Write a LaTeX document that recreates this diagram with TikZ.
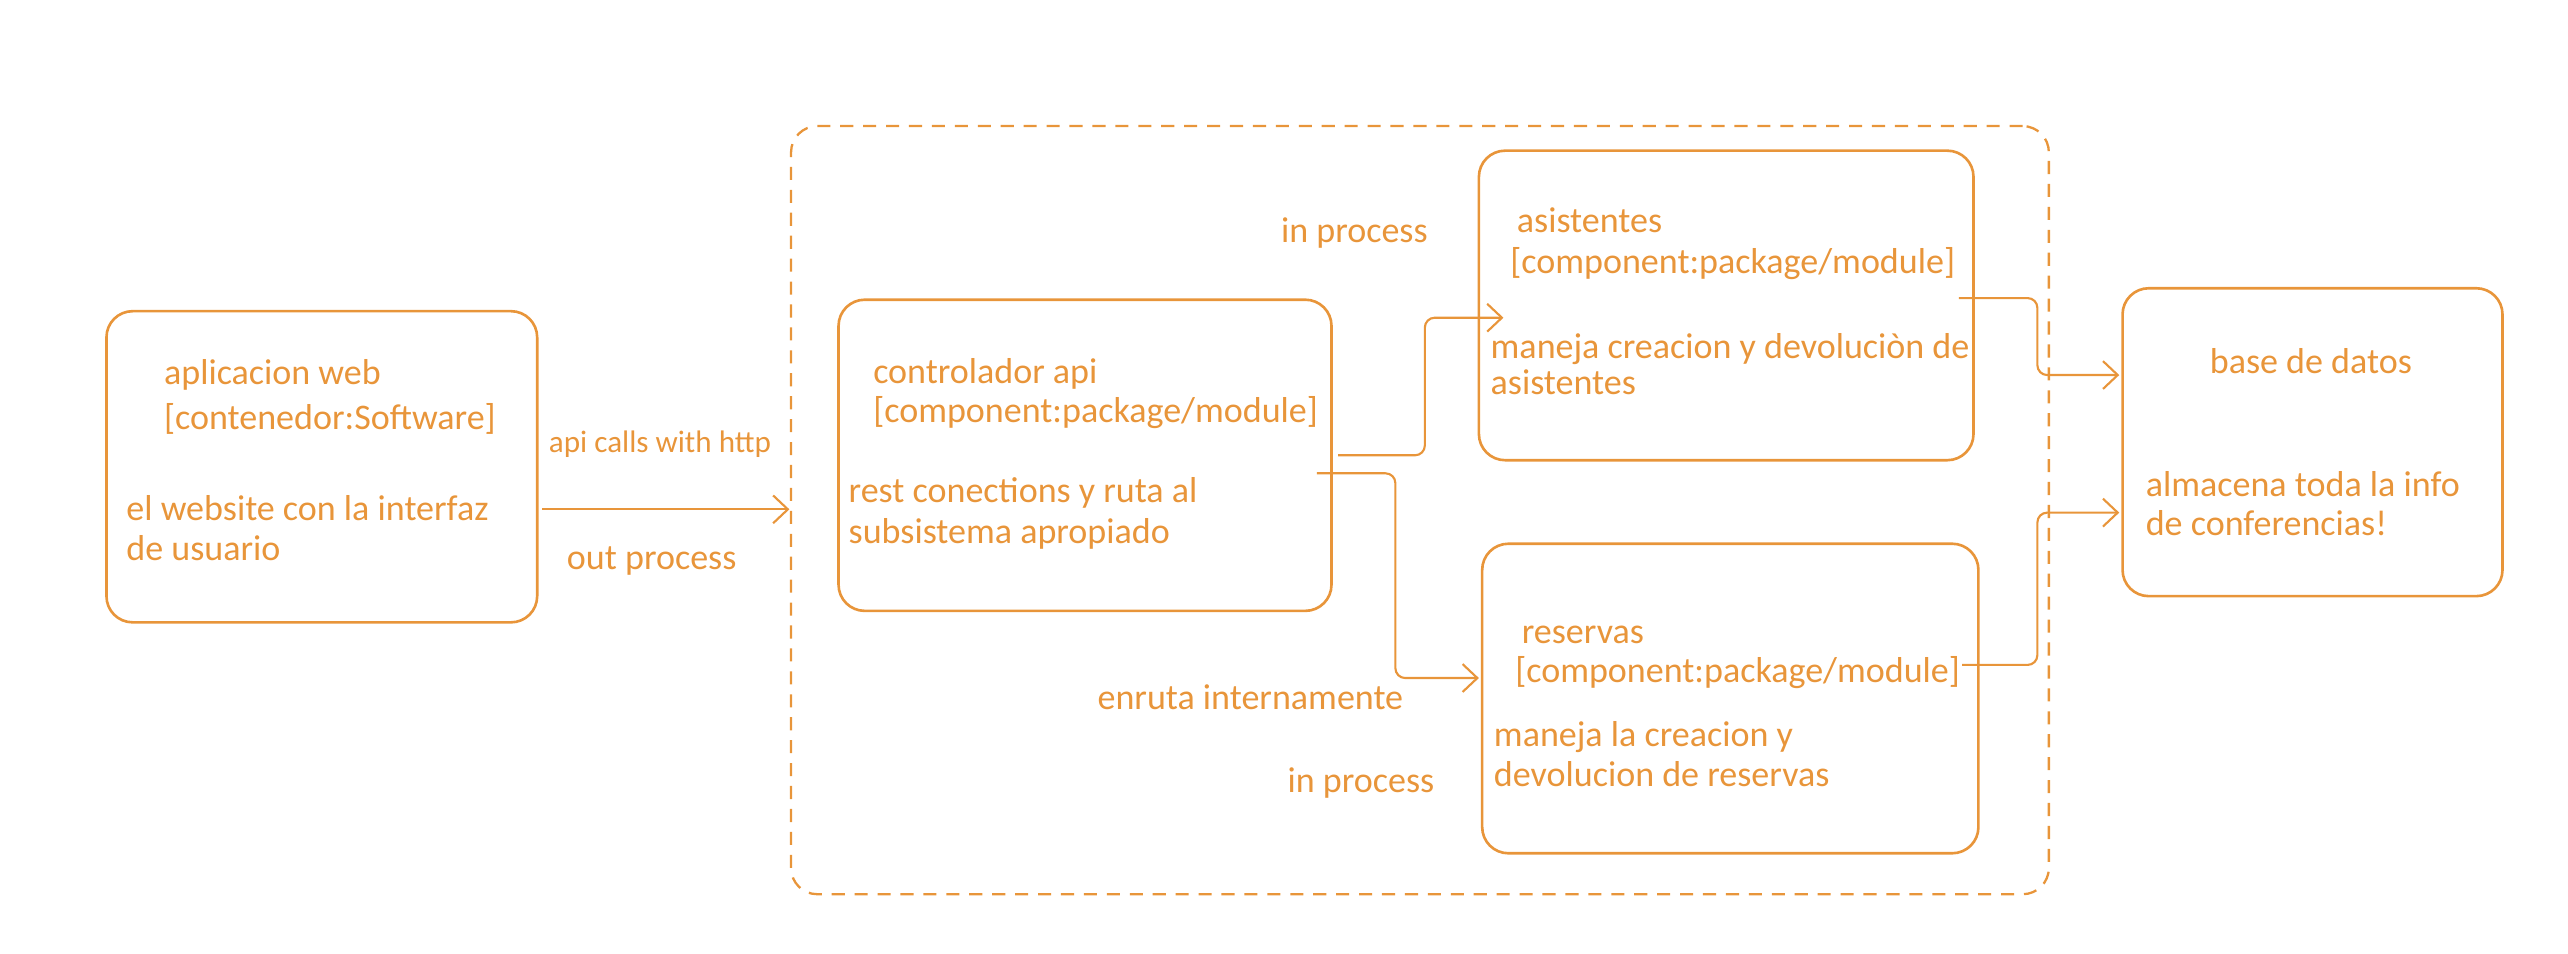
\documentclass[tikz,border=0pt]{standalone}
\usepackage{fontspec}
\setmainfont{Carlito}
\usetikzlibrary{arrows.meta,calc}
\definecolor{ink}{HTML}{E8953A}
\tikzset{
  box/.style={draw=ink, line width=1.6pt, rounded corners=16pt, rectangle, inner sep=0pt, outer sep=0pt},
  contbox/.style={draw=ink, line width=1.4pt, rounded corners=16pt, dash pattern=on 8pt off 6pt, rectangle, inner sep=0pt, outer sep=0pt},
  conn/.style={draw=ink, line width=1.3pt, rounded corners=6pt, -{Straight Barb[length=9pt,width=17pt,line width=1.3pt]}},
  txt/.style={anchor=base west, inner sep=0pt, text=ink, font=\fontsize{22}{27}\selectfont},
  small/.style={txt, font=\fontsize{19}{23}\selectfont}
}
\begin{document}
\begin{tikzpicture}[x=1pt,y=-1pt]
\useasboundingbox (0,0) rectangle (1568,582.5);
% container
\node[contbox, minimum width=768pt, minimum height=469pt] (cont) at (867,311.5) {};
% boxes
\node[box, minimum width=263pt, minimum height=190pt] (web) at (196.5,285) {};
\node[box, minimum width=301pt, minimum height=190pt] (ctrl) at (662.5,278) {};
\node[box, minimum width=302pt, minimum height=189pt] (asis) at (1054,186.5) {};
\node[box, minimum width=303pt, minimum height=189pt] (res) at (1056.5,426.5) {};
\node[box, minimum width=232pt, minimum height=188pt] (base) at (1412,270) {};
% texts web
\node[txt] (w1) at (100,235) {aplicacion web};
\node[txt] (w2) at (100,262) {[contenedor:Software]};
\node[txt] (w3) at (77,318) {el website con la interfaz};
\node[txt] (w4) at (77,342) {de usuario};
\node[small] (l1) at (335,276) {api calls with http};
\node[txt] (l2) at (346,348) {out process};
% ctrl
\node[txt] (c1) at (533,234) {controlador api};
\node[txt] (c2) at (533,258) {[component:package/module]};
\node[txt] (c3) at (518,307) {rest conections y ruta al};
\node[txt] (c4) at (518,332) {subsistema apropiado};
% asis
\node[txt] (a1) at (926,142) {asistentes};
\node[txt] (a2) at (922,167) {[component:package/module]};
\node[txt] (a3) at (910,219) {maneja creacion y devoluciòn de};
\node[txt] (a4) at (910,241) {asistentes};
\node[txt] (l3) at (782,148) {in process};
% res
\node[txt] (r1) at (929,393) {reservas};
\node[txt] (r2) at (925,417) {[component:package/module]};
\node[txt] (r3) at (912,456) {maneja la creacion y};
\node[txt] (r4) at (912,480) {devolucion de reservas};
\node[txt] (l4) at (670,433) {enruta internamente};
\node[txt] (l5) at (786,484) {in process};
% base
\node[txt, anchor=base] (b1) at (1411,228) {base de datos};
\node[txt] (b2) at (1310,303) {almacena toda la info};
\node[txt] (b3) at (1310,327) {de conferencias!};
% connectors
\coordinate (ws) at ([xshift=3pt,yshift=-26pt]web.east);
\draw[conn] (ws) -- ([xshift=-1pt]ws -| cont.west);
\draw[conn] ([xshift=4pt]ctrl.east) -- ++(53,0) |- ([xshift=15pt,yshift=-7.5pt]asis.west);
\draw[conn] ([xshift=-9pt,yshift=-11pt]ctrl.east) -- ++(48,0) |- ([xshift=-2pt,yshift=12.5pt]res.west);
\draw[conn] ([xshift=-9pt,yshift=4.5pt]asis.east) -- ++(48,0) |- ([xshift=-2pt,yshift=41pt]base.west);
\draw[conn] ([xshift=-10pt,yshift=20.5pt]res.east) -- ++(46,0) |- ([xshift=-2pt,yshift=-43pt]base.west);
\end{tikzpicture}
\end{document}
